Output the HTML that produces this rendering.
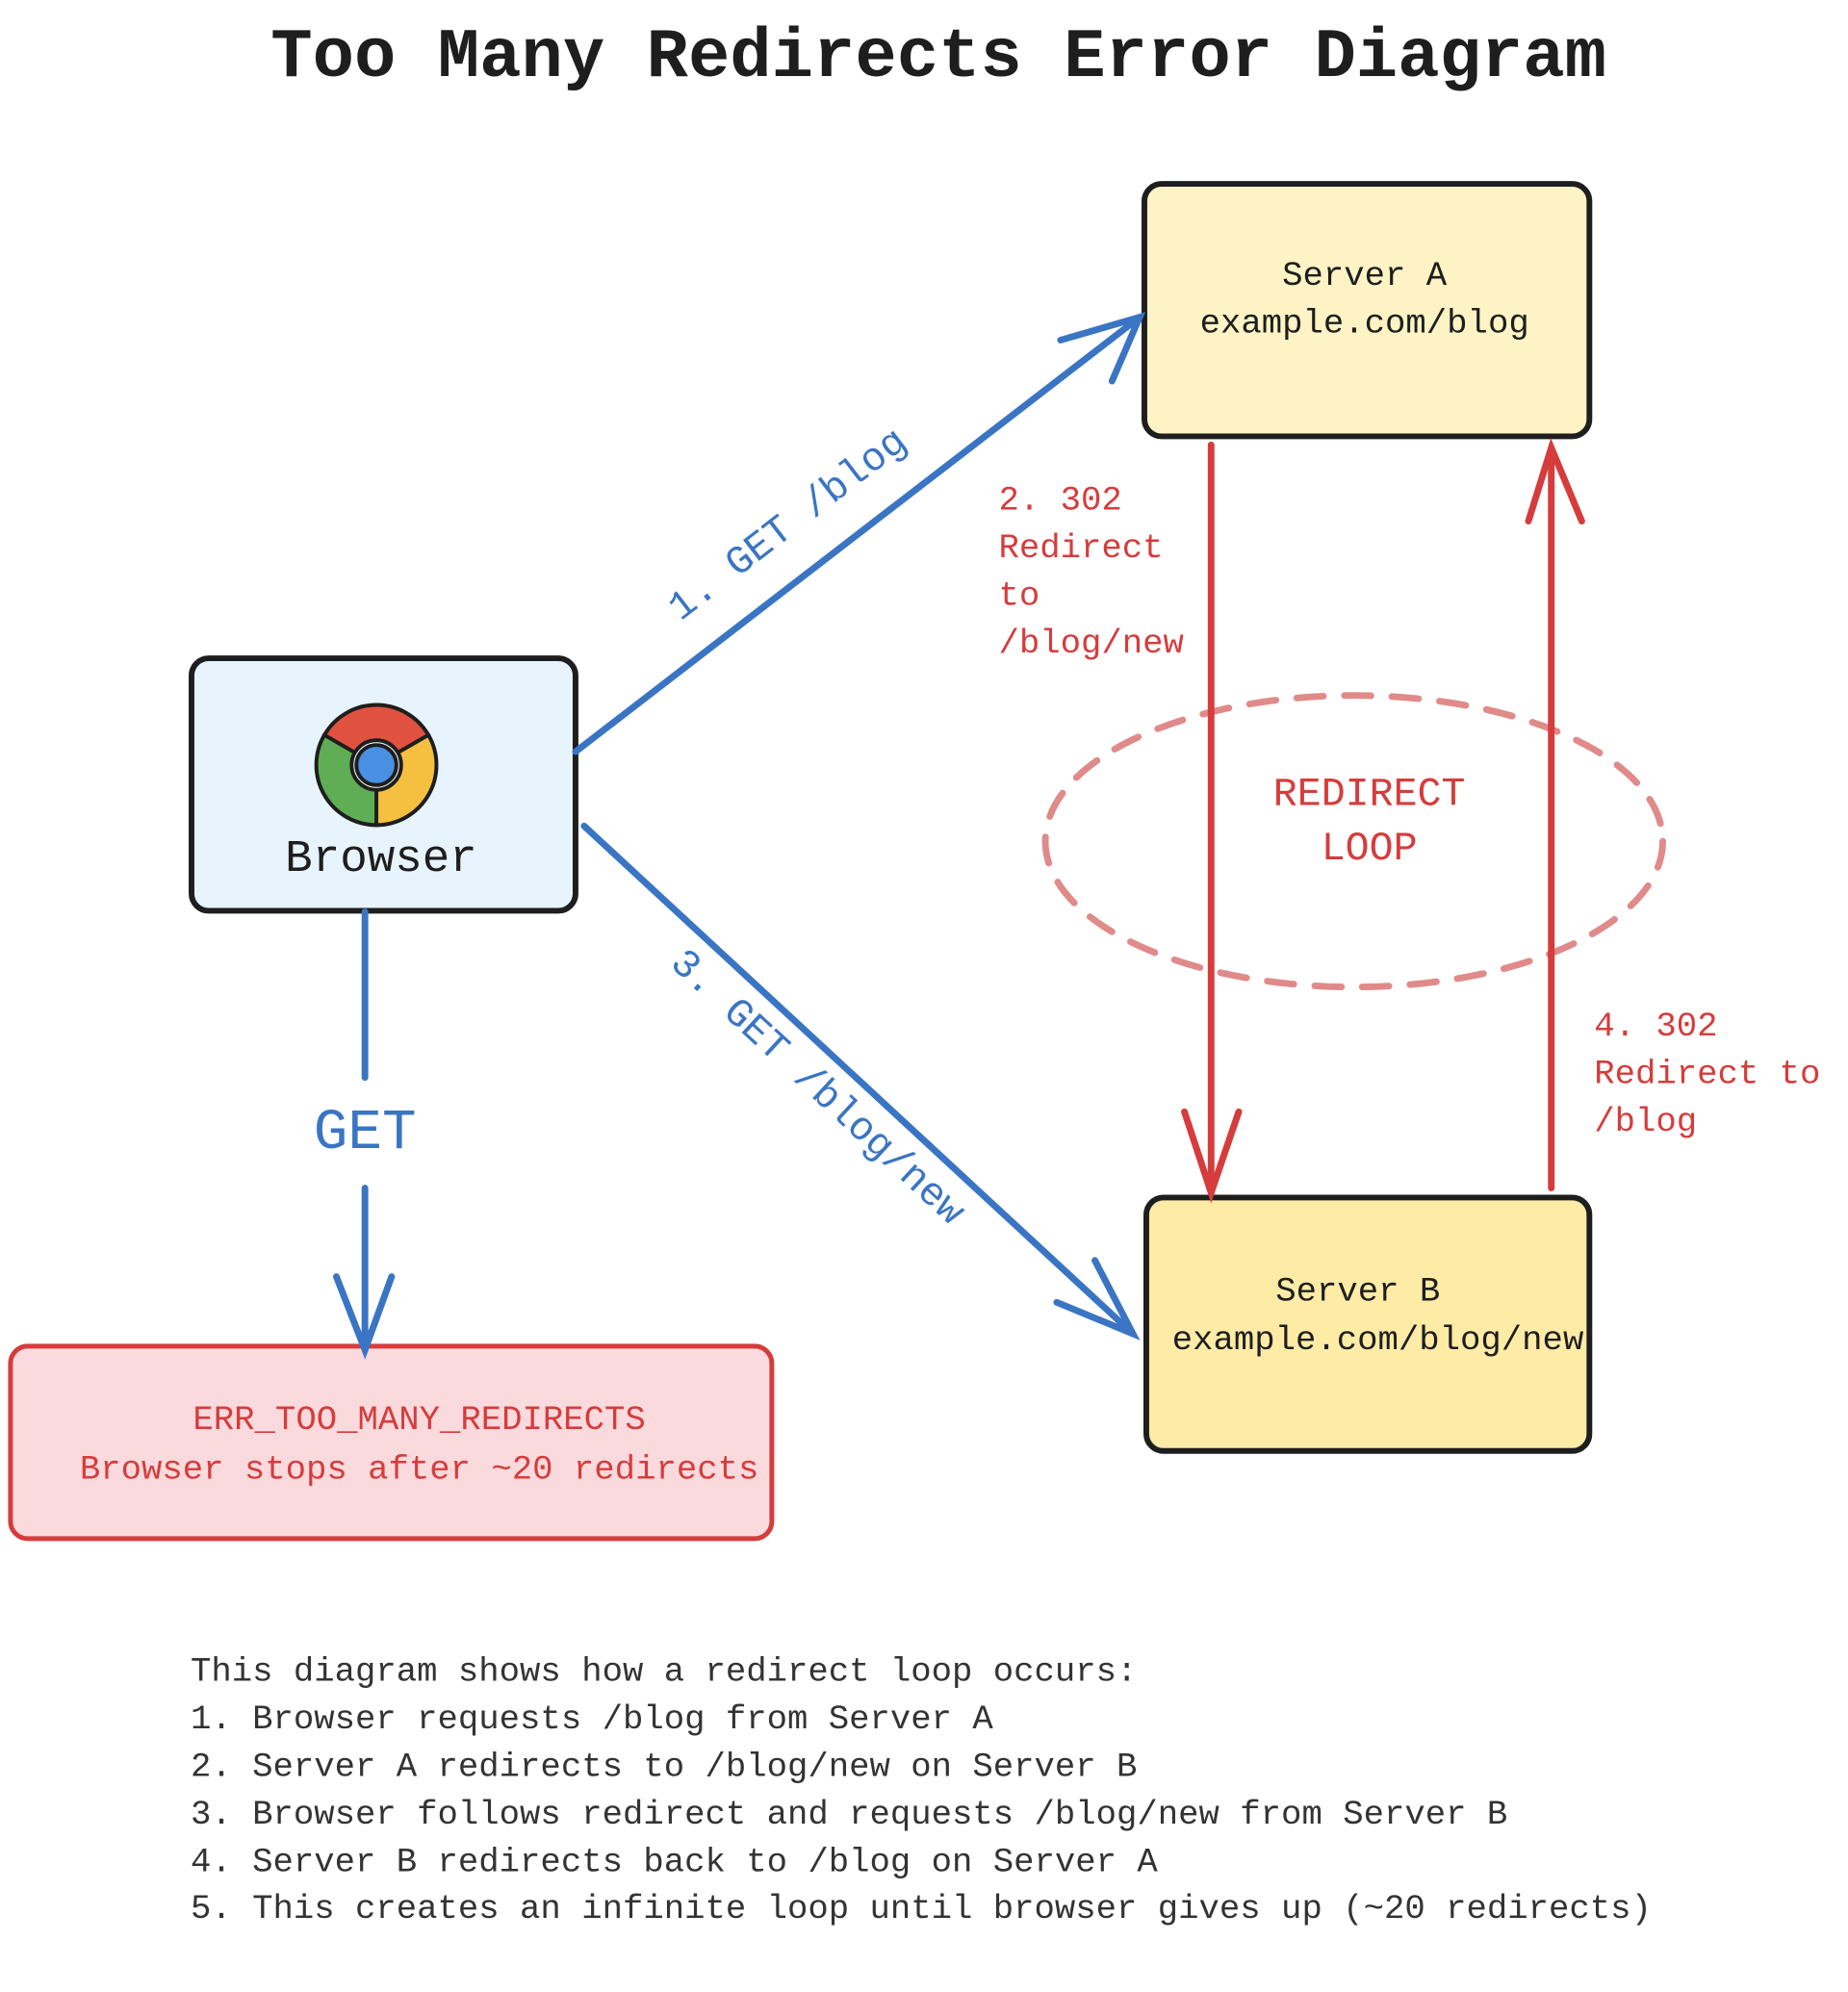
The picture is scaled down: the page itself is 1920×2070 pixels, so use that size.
<!DOCTYPE html>
<html><head><meta charset="utf-8"><style>
html,body{margin:0;padding:0;background:#fff;}
svg{display:block;}
text{font-family:"Liberation Mono",monospace;}
</style></head><body>
<svg width="1920" height="2070" viewBox="0 0 1920 2070" xmlns="http://www.w3.org/2000/svg">
<g transform="scale(0.99)">
<text x="985" y="80" font-size="73" text-anchor="middle" fill="#1e1e1e" font-weight="bold">Too Many Redirects Error Diagram</text>

<!-- Server A -->
<rect x="1201" y="193" width="467" height="265" rx="18" fill="#fdf3c4" stroke="#1e1e1e" stroke-width="6"/>
<text x="1432" y="299" font-size="36" text-anchor="middle" fill="#1e1e1e">Server A</text>
<text x="1432" y="349" font-size="36" text-anchor="middle" fill="#1e1e1e">example.com/blog</text>

<!-- Server B -->
<rect x="1203" y="1257" width="465" height="266" rx="18" fill="#fdeba6" stroke="#1e1e1e" stroke-width="6"/>
<text x="1425" y="1365" font-size="36" text-anchor="middle" fill="#1e1e1e">Server B</text>
<text x="1446" y="1416" font-size="36" text-anchor="middle" fill="#1e1e1e">example.com/blog/new</text>

<!-- Browser -->
<rect x="201" y="691" width="403" height="265" rx="18" fill="#e8f4fd" stroke="#1e1e1e" stroke-width="6"/>
<g stroke="#1e1e1e" stroke-width="4">
<path d="M395,803 L340.4,771.5 A63,63 0 0 1 449.6,771.5 Z" fill="#e0523f"/>
<path d="M395,803 L449.6,771.5 A63,63 0 0 1 395,866 Z" fill="#f5c040"/>
<path d="M395,803 L395,866 A63,63 0 0 1 340.4,771.5 Z" fill="#5fae55"/>
<circle cx="395" cy="803" r="26" fill="#fff"/>
<circle cx="395" cy="803" r="21" fill="#4a90e2"/>
</g>
<text x="400" y="914" font-size="48" text-anchor="middle" fill="#1e1e1e">Browser</text>

<!-- Error box -->
<rect x="11" y="1413" width="799" height="202" rx="18" fill="#fadadd" stroke="#d63c3c" stroke-width="5"/>
<text x="440" y="1500" font-size="36" text-anchor="middle" fill="#d63c3c" font-family="Liberation Sans">ERR_TOO_MANY_REDIRECTS</text>
<text x="440" y="1552" font-size="36" text-anchor="middle" fill="#d63c3c">Browser stops after ~20 redirects</text>

<!-- Loop ellipse -->
<ellipse cx="1421" cy="883" rx="324" ry="153" fill="none" stroke="#e08a8a" stroke-width="7" stroke-dasharray="28 22" stroke-linecap="round"/>
<text x="1437" y="845" font-size="42" text-anchor="middle" fill="#d63c3c" font-family="Liberation Sans">REDIRECT</text>
<text x="1437" y="902" font-size="42" text-anchor="middle" fill="#d63c3c" font-family="Liberation Sans">LOOP</text>

<!-- Red arrows -->
<g stroke="#d63c3c" stroke-width="7" fill="none" stroke-linecap="round">
<line x1="1271" y1="467" x2="1271" y2="1252"/>
<polyline points="1243,1167 1271,1252 1300,1167"/>
<line x1="1628" y1="1247" x2="1628" y2="470"/>
<polyline points="1604,547 1628,470 1660,547"/>
</g>
<g fill="#d63c3c" font-size="36">
<text x="1048" y="535">2. 302</text>
<text x="1048" y="585">Redirect</text>
<text x="1048" y="635">to</text>
<text x="1048" y="685">/blog/new</text>
<text x="1673" y="1087">4. 302</text>
<text x="1673" y="1137">Redirect to</text>
<text x="1673" y="1187">/blog</text>
</g>

<!-- Blue arrows -->
<g stroke="#3a75c4" stroke-width="7" fill="none" stroke-linecap="round">
<line x1="604" y1="789" x2="1196" y2="333"/>
<polyline points="1113,357 1196,333 1167,400"/>
<line x1="613" y1="867" x2="1189" y2="1400"/>
<polyline points="1149,1323 1189,1400 1109,1367"/>
<line x1="383" y1="957" x2="383" y2="1131"/>
<line x1="383" y1="1247" x2="383" y2="1417"/>
<polyline points="353,1340 383,1417 411,1340"/>
</g>
<text x="0" y="0" font-size="42" fill="#3a75c4" text-anchor="middle" transform="translate(834,560) rotate(-37.6)">1. GET /blog</text>
<text x="0" y="0" font-size="42" fill="#3a75c4" text-anchor="middle" transform="translate(850,1150) rotate(42.8)">3. GET /blog/new</text>
<text x="383" y="1205" font-size="60" text-anchor="middle" fill="#3a75c4" font-family="Liberation Sans">GET</text>

<!-- Footer -->
<g fill="#333" font-size="36">
<text x="200" y="1764">This diagram shows how a redirect loop occurs:</text>
<text x="200" y="1814">1. Browser requests /blog from Server A</text>
<text x="200" y="1864">2. Server A redirects to /blog/new on Server B</text>
<text x="200" y="1914">3. Browser follows redirect and requests /blog/new from Server B</text>
<text x="200" y="1964">4. Server B redirects back to /blog on Server A</text>
<text x="200" y="2013">5. This creates an infinite loop until browser gives up (~20 redirects)</text>
</g>
</g>
</svg>
</body></html>
